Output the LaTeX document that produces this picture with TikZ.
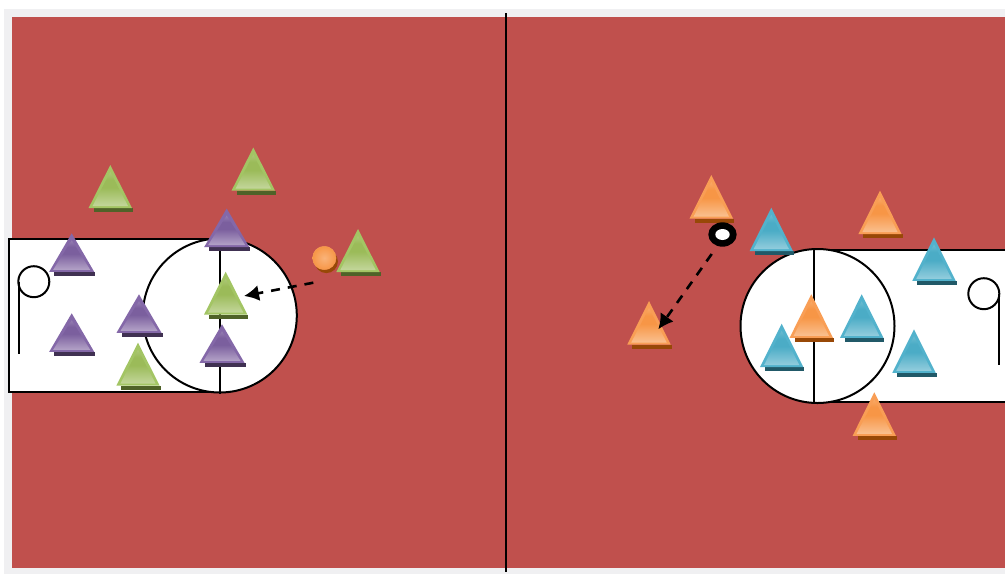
\documentclass[tikz,border=0pt]{standalone}
\usetikzlibrary{arrows.meta,shapes.geometric}
\definecolor{court}{HTML}{C0504D}
\definecolor{frame}{HTML}{F0F0F2}
\definecolor{gA}{HTML}{9BBB59}\definecolor{gB}{HTML}{C3D69B}\definecolor{gC}{HTML}{4F6228}\definecolor{gD}{HTML}{A3C564}
\definecolor{pA}{HTML}{7B5F9E}\definecolor{pB}{HTML}{B3A2C7}\definecolor{pC}{HTML}{403152}\definecolor{pD}{HTML}{8468A8}
\definecolor{bA}{HTML}{4BACC6}\definecolor{bB}{HTML}{93CDDD}\definecolor{bC}{HTML}{215968}\definecolor{bD}{HTML}{52B2CC}
\definecolor{oA}{HTML}{F79646}\definecolor{oB}{HTML}{FAC090}\definecolor{oC}{HTML}{984807}\definecolor{oD}{HTML}{F99E55}
\colorlet{gE}{gA!55!gB}\colorlet{pE}{pA!55!pB}\colorlet{bE}{bA!55!bB}\colorlet{oE}{oA!55!oB}
\pgfdeclareverticalshading{coneg}{100bp}{color(0bp)=(gB); color(25bp)=(gB); color(52bp)=(gA); color(64bp)=(gA); color(75bp)=(gE); color(100bp)=(gE)}
\pgfdeclareverticalshading{conep}{100bp}{color(0bp)=(pB); color(25bp)=(pB); color(52bp)=(pA); color(64bp)=(pA); color(75bp)=(pE); color(100bp)=(pE)}
\pgfdeclareverticalshading{coneb}{100bp}{color(0bp)=(bB); color(25bp)=(bB); color(52bp)=(bA); color(64bp)=(bA); color(75bp)=(bE); color(100bp)=(bE)}
\pgfdeclareverticalshading{coneo}{100bp}{color(0bp)=(oB); color(25bp)=(oB); color(52bp)=(oA); color(64bp)=(oA); color(75bp)=(oE); color(100bp)=(oE)}
\tikzset{
 x=1pt,y=-1pt,
 courtline/.style={draw=black,line width=2pt},
 pass/.style={draw=black,line width=2.6pt,dash pattern=on 9pt off 8pt,-{Latex[length=15pt,width=16pt]}},
}
% #1 colour prefix, #2 x apex, #3 y apex, #4 half width, #5 height
\newcommand{\cone}[5]{%
 \fill[#1C] (#2+5-#4,#3+#5) -- (#2+1+#4,#3+#5) -- (#2+1+#4,#3+#5+4) -- (#2+5-#4,#3+#5+4) -- cycle;
 \fill[#1D] (#2,#3) -- (#2+#4,#3+#5) -- (#2-#4,#3+#5) -- cycle;
 \shade[shading=cone#1]
   (#2,#3+7) -- (#2+#4-4,#3+#5-2) -- (#2-#4+4,#3+#5-2) -- cycle;
}
\begin{document}
\begin{tikzpicture}
\useasboundingbox (0,0) rectangle (1005,574);
\fill[white] (0,0) rectangle (1005,574);
\fill[frame] (4,9) rectangle (1005,574);
\fill[court] (12,17) rectangle (1005,568);
\coordinate (midT) at (506,13);
\coordinate (midB) at (506,572);
\draw[line width=2pt] (midT) -- (midB);
% left key
\draw[courtline,fill=white] (220,239.3) -- (8.5,239.3) -- (8.5,391.7) -- (220,391.7);
\node[courtline,fill=white,circle,minimum size=154pt,inner sep=0pt] (lc) at (219.8,315.5) {};
\draw[courtline] (lc.north) -- (lc.south);
\node[courtline,circle,minimum size=31pt,inner sep=0pt] (lr) at (33.8,281.7) {};
\coordinate (lrTop) at (19.2,281.7);
\coordinate (lrEnd) at (19.2,354);
\draw[courtline] (lrTop) -- (lrEnd);
% right key
\draw[courtline,fill=white] (1010,250) -- (813.7,250) -- (813.7,401.7) -- (1010,401.7);
\node[courtline,fill=white,circle,minimum size=154pt,inner sep=0pt] (rc) at (817.5,326) {};
\draw[courtline] (813.7,250) -- (813.7,401.7);
\node[courtline,circle,minimum size=31pt,inner sep=0pt] (rr) at (983.8,293.7) {};
\coordinate (rrTop) at (998.9,293.7);
\coordinate (rrEnd) at (998.9,365);
\draw[courtline] (rrTop) -- (rrEnd);
% green
\cone{g}{110.3}{165}{21.7}{43}
\cone{g}{253.3}{147.5}{21.7}{43}
\cone{g}{358}{229}{21.7}{43}
\cone{g}{225.7}{271.7}{21.7}{43}
\cone{g}{138}{342.7}{21.7}{43}
% purple
\cone{p}{71.7}{233.3}{22.5}{38.5}
\cone{p}{226.7}{208.5}{22.5}{38.5}
\cone{p}{139}{294.3}{22.5}{38.5}
\cone{p}{71.7}{313.3}{22.5}{38.5}
\cone{p}{222}{324.3}{22.5}{38.5}
% orange
\cone{o}{711.3}{175}{21.7}{43.5}
\cone{o}{880}{190.7}{21.7}{43.5}
\cone{o}{649}{301}{21.7}{43.5}
\cone{o}{811.3}{294.3}{21.7}{43.5}
\cone{o}{874.3}{392.3}{21.7}{43.5}
% blue
\cone{b}{771.3}{207.7}{21.7}{43.5}
\cone{b}{934}{237.3}{21.7}{43.5}
\cone{b}{861.7}{294.3}{21.7}{43.5}
\cone{b}{781.7}{323.7}{21.7}{43.5}
\cone{b}{914}{329.3}{21.7}{43.5}
% ball
\fill[oC] (326.3,261.5) ellipse [x radius=11.6pt,y radius=11.6pt];
\node[circle,inner sep=0pt,minimum size=23.5pt,inner color=oB!70!oA,outer color=oA,draw=oD,line width=.4pt] (ball) at (324.3,258) {};
% marked player
\node[ellipse,fill=black,inner sep=0pt,minimum width=28.4pt,minimum height=24.4pt] (ring) at (722.5,234.5) {};
\node[ellipse,fill=white,inner sep=0pt,minimum width=14.4pt,minimum height=11pt] (ringhole) at (722.5,234.5) {};
% passes
\coordinate (p1s) at (313.3,282.7);
\coordinate (p1e) at (244,296);
\coordinate (p2s) at (711.7,254);
\coordinate (p2e) at (658.3,329.3);
\draw[pass] (p1s) -- (p1e);
\draw[pass] (p2s) -- (p2e);
\end{tikzpicture}
\end{document}
